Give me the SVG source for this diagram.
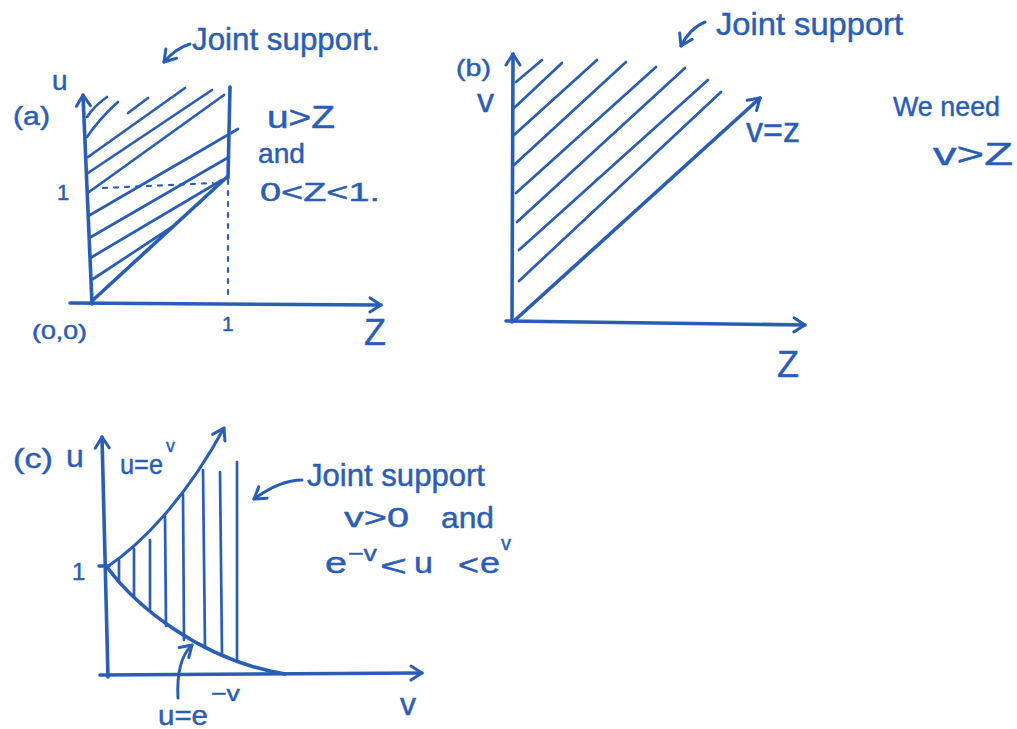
<svg xmlns="http://www.w3.org/2000/svg" width="1017" height="729" viewBox="0 0 1017 729">
<style>
.ln{fill:none;stroke:#2a5db5;stroke-width:3;stroke-linecap:round;stroke-linejoin:round}
.ax{fill:none;stroke:#2a5db5;stroke-width:3.6;stroke-linecap:round}
.ht{fill:none;stroke:#2a5db5;stroke-width:2.7;stroke-linecap:round}
.dot{fill:none;stroke:#2a5db5;stroke-width:2.2;stroke-dasharray:4 7;stroke-linecap:round}
.t{font-family:"Liberation Sans",Arial,sans-serif;fill:#2a5db5;stroke:#2a5db5;stroke-width:0.45}
</style>
<defs>
<marker id="ah" viewBox="-14 -10 16 20" refX="0" refY="0" markerWidth="16" markerHeight="20" markerUnits="userSpaceOnUse" orient="auto">
<path d="M-11,-7 L0,0 L-11,7" fill="none" stroke="#2a5db5" stroke-width="3" stroke-linecap="round" stroke-linejoin="round"/>
</marker>
</defs>
<rect width="1017" height="729" fill="#ffffff"/>

<g id="panel-a">
<path class="ax" d="M92,304 L83,95" marker-end="url(#ah)"/>
<path class="ax" d="M70,303 L381,305" marker-end="url(#ah)"/>
<path class="ax" d="M230,87 L228,178"/>
<path class="dot" d="M228,180 L228,300"/>
<path class="dot" d="M103,188 L213,183"/>
<path class="ax" d="M92,301 L227,177"/>
<path class="ht" d="M87,117 Q95,105 107,97"/>
<path class="ht" d="M87,137 Q100,118 118,102"/>
<path class="ht" d="M128,113 L148,98"/>
<path class="ht" d="M88,157 L185,88"/>
<path class="ht" d="M88,173 L212,90"/>
<path class="ht" d="M89,192 L224,95"/>
<path class="ht" d="M90,215 L238,129"/>
<path class="ht" d="M91,237 L229,157"/>
<path class="ht" d="M92,257 L222,180"/>
<path class="ht" d="M93,279 L172,227"/>
<text class="t" x="13" y="125" font-size="26" textLength="37" lengthAdjust="spacingAndGlyphs">(a)</text>
<text class="t" x="52" y="90" font-size="28">u</text>
<text class="t" x="57" y="200" font-size="22">1</text>
<text class="t" x="32" y="339" font-size="20" textLength="55" lengthAdjust="spacingAndGlyphs">(0,0)</text>
<text class="t" x="222" y="331" font-size="21">1</text>
<text class="t" x="364" y="345" font-size="36">Z</text>
<text class="t" x="192" y="50" font-size="31" textLength="188" lengthAdjust="spacingAndGlyphs">Joint support.</text>
<text class="t" x="267" y="128" font-size="31" textLength="68" lengthAdjust="spacingAndGlyphs">u&gt;Z</text>
<text class="t" x="258" y="163" font-size="28" textLength="47" lengthAdjust="spacingAndGlyphs">and</text>
<text class="t" x="260" y="201" font-size="25" textLength="120" lengthAdjust="spacingAndGlyphs">0&lt;Z&lt;1.</text>
</g>

<g id="panel-b">
<path class="ax" d="M512,322 L513,54" marker-end="url(#ah)"/>
<path class="ax" d="M506,321 L805,325" marker-end="url(#ah)"/>
<path class="ax" d="M514,321 L760,98" marker-end="url(#ah)"/>
<path class="ht" d="M516,82 L542,60"/>
<path class="ht" d="M514,108 L562,63"/>
<path class="ht" d="M514,135 L597,60"/>
<path class="ht" d="M514,165 L626,62"/>
<path class="ht" d="M516,193 L656,67"/>
<path class="ht" d="M517,222 L685,68"/>
<path class="ht" d="M519,250 L708,80"/>
<path class="ht" d="M519,281 L721,92"/>
<text class="t" x="456" y="76" font-size="24" textLength="35" lengthAdjust="spacingAndGlyphs">(b)</text>
<text class="t" x="477" y="112" font-size="34">v</text>
<text class="t" x="777" y="377" font-size="36">Z</text>
<text class="t" x="716" y="35" font-size="32" textLength="187" lengthAdjust="spacingAndGlyphs">Joint support</text>
<text class="t" x="746" y="142" font-size="35" textLength="54" lengthAdjust="spacingAndGlyphs">v=z</text>
<text class="t" x="893" y="116" font-size="28" textLength="107" lengthAdjust="spacingAndGlyphs">We need</text>
<text class="t" x="933" y="165" font-size="32" textLength="80" lengthAdjust="spacingAndGlyphs">v&gt;Z</text>
</g>

<g id="panel-c">
<path class="ax" d="M108,677 L102,437" marker-end="url(#ah)"/>
<path class="ax" d="M100,675 L422,673" marker-end="url(#ah)"/>
<path class="ln" d="M107,567 C140,545 185,500 224,428" marker-end="url(#ah)"/>
<path class="ax" d="M107,567 C135,605 200,660 285,674"/>
<path class="ax" d="M99,566 L109,566"/>
<path class="ht" d="M119,560 L119,582"/>
<path class="ht" d="M134,549 L134,597"/>
<path class="ht" d="M150,540 L150,611"/>
<path class="ht" d="M165,516 L166,626"/>
<path class="ht" d="M183,494 L184,640"/>
<path class="ht" d="M203,470 L205,648"/>
<path class="ht" d="M220,472 L222,653"/>
<path class="ht" d="M237,462 L237,660"/>
<text class="t" x="13" y="468" font-size="28" textLength="40" lengthAdjust="spacingAndGlyphs">(c)</text>
<text class="t" x="66" y="467" font-size="32">u</text>
<text class="t" x="120" y="474" font-size="28" textLength="43" lengthAdjust="spacingAndGlyphs">u=e</text>
<text class="t" x="166" y="452" font-size="18">v</text>
<text class="t" x="72" y="580" font-size="24">1</text>
<text class="t" x="400" y="715" font-size="32">v</text>
<text class="t" x="158" y="725" font-size="28" textLength="50" lengthAdjust="spacingAndGlyphs">u=e</text>
<text class="t" x="211" y="701" font-size="22" textLength="29" lengthAdjust="spacingAndGlyphs">−v</text>
<text class="t" x="307" y="486" font-size="31" textLength="178" lengthAdjust="spacingAndGlyphs">Joint support</text>
<text class="t" x="344" y="527" font-size="28" textLength="65" lengthAdjust="spacingAndGlyphs">v&gt;0</text>
<text class="t" x="441" y="528" font-size="29" textLength="53" lengthAdjust="spacingAndGlyphs">and</text>
<text class="t" x="325" y="573" font-size="30" textLength="22" lengthAdjust="spacingAndGlyphs">e</text>
<text class="t" x="348" y="561" font-size="22" textLength="29" lengthAdjust="spacingAndGlyphs">−v</text>
<text class="t" x="380" y="576" font-size="30" textLength="27" lengthAdjust="spacingAndGlyphs">&lt;</text>
<text class="t" x="414" y="573" font-size="30" textLength="19" lengthAdjust="spacingAndGlyphs">u</text>
<text class="t" x="458" y="575" font-size="30" textLength="21" lengthAdjust="spacingAndGlyphs">&lt;</text>
<text class="t" x="480" y="573" font-size="30" textLength="20" lengthAdjust="spacingAndGlyphs">e</text>
<text class="t" x="501" y="550" font-size="20">v</text>
</g>

<g id="connectors">
<path class="ln" d="M190,44 Q176,48 164,62" marker-end="url(#ah)"/>
<path class="ln" d="M705,22 Q690,28 681,46" marker-end="url(#ah)"/>
<path class="ln" d="M302,480 Q280,480 254,499" marker-end="url(#ah)"/>
<path class="ln" d="M178,698 Q176,660 192,645" marker-end="url(#ah)"/>
</g>
</svg>
